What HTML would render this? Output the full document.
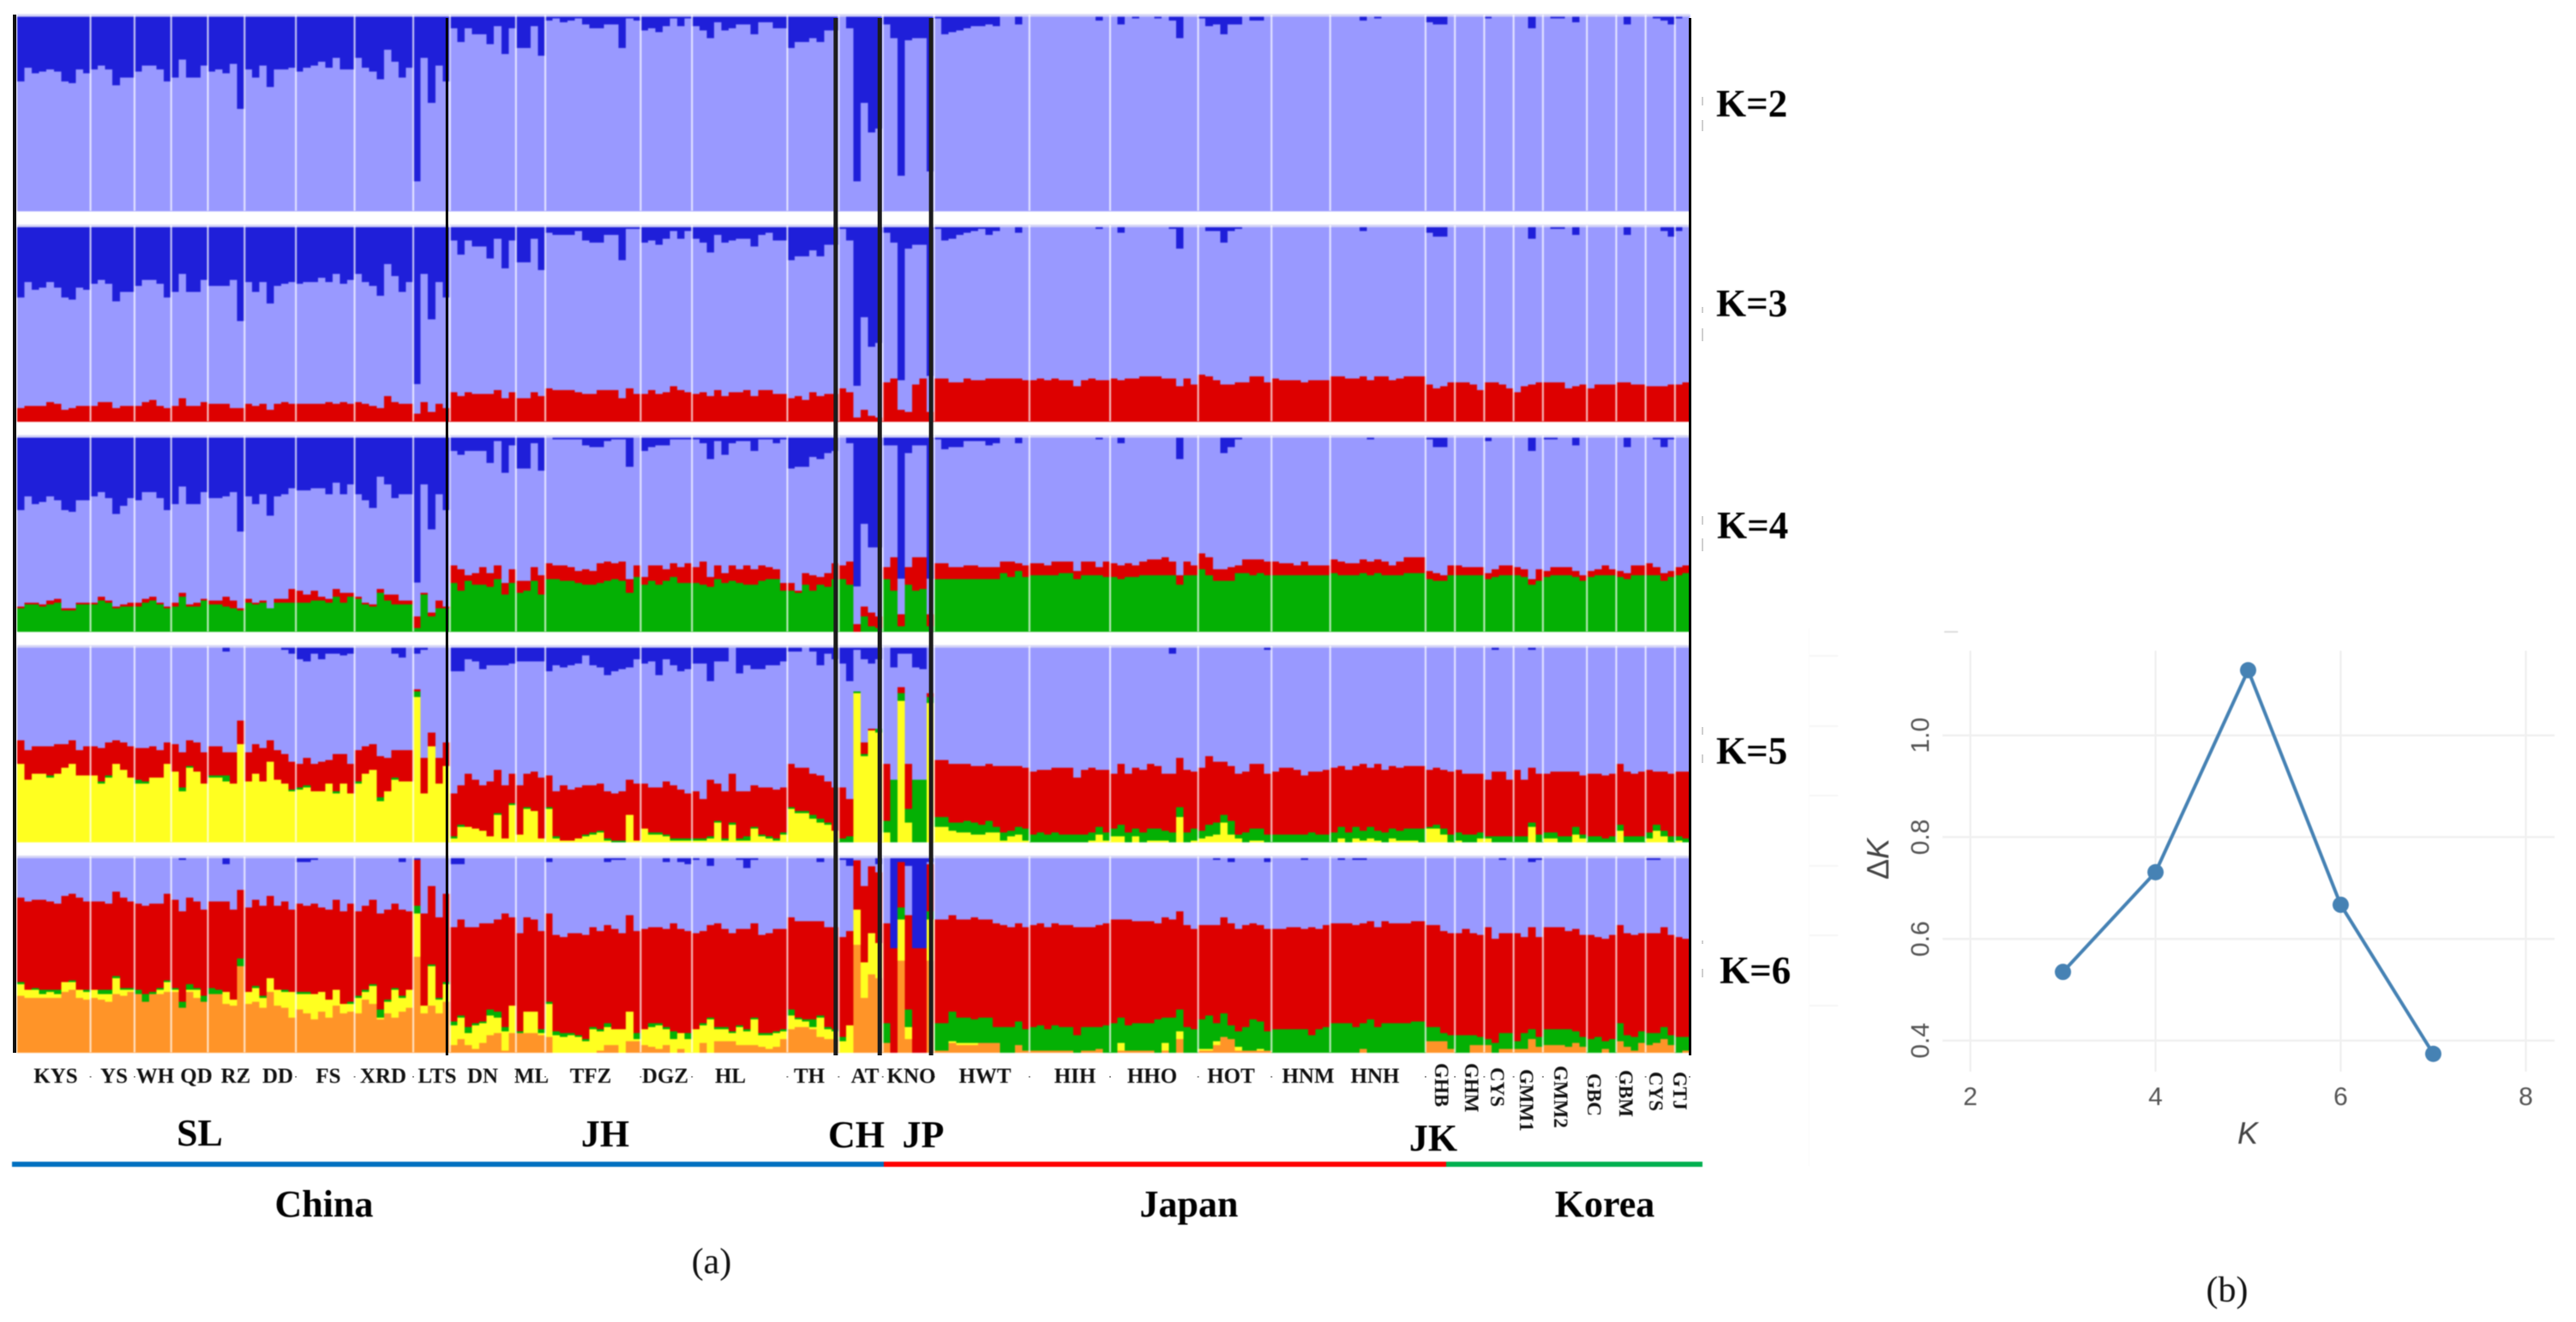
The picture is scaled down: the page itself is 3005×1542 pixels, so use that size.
<!DOCTYPE html>
<html lang="en">
<head>
<meta charset="utf-8">
<title>Population structure bar plots and Delta K chart</title>
<style>
html,body{margin:0;padding:0;background:#fff;width:3005px;height:1542px;overflow:hidden}
svg{display:block}
.bars{filter:blur(0.7px)}
.soft{filter:blur(0.6px)}
.pop{font:bold 25px "Liberation Serif",serif;fill:#111;text-anchor:middle}
.popv{font:bold 23px "Liberation Serif",serif;fill:#111}
.kl{font:bold 45px "Liberation Serif",serif;fill:#000}
.grp{font:bold 44px "Liberation Serif",serif;fill:#000;text-anchor:middle}
.cap{font:42px "Liberation Serif",serif;fill:#111;text-anchor:middle}
.tick{font:30px "Liberation Sans",sans-serif;fill:#555}
.axt{font:italic 36px "Liberation Sans",sans-serif;fill:#444}
</style>
</head>
<body>
<svg id="fig" xmlns="http://www.w3.org/2000/svg" width="3005" height="1542" viewBox="0 0 3005 1542">
<g id="bars" class="bars"></g>
<g id="seps" class="bars"></g>
<g id="blacks"></g>
<g id="popticks"></g>

<g class="soft">
<text class="kl" x="2002" y="136">K=2</text>
<text class="kl" x="2002" y="369">K=3</text>
<text class="kl" x="2003" y="628">K=4</text>
<text class="kl" x="2002" y="891">K=5</text>
<text class="kl" x="2006" y="1147">K=6</text>
</g>
<g fill="#cfcfcf">
<rect x="1985" y="113" width="2" height="10"/>
<rect x="1985" y="140" width="2" height="13"/>
<rect x="1985" y="358" width="2" height="7"/>
<rect x="1985" y="383" width="2" height="15"/>
<rect x="1985" y="602" width="2" height="10"/>
<rect x="1985" y="628" width="2" height="15"/>
<rect x="1985" y="848" width="2" height="9"/>
<rect x="1985" y="880" width="2" height="10"/>
<rect x="1985" y="1097" width="2" height="4"/>
<rect x="1985" y="1130" width="2" height="10"/>
</g>

<g class="soft">
<text class="pop" x="65" y="1263">KYS</text>
<text class="pop" x="133" y="1263">YS</text>
<text class="pop" x="181" y="1263">WH</text>
<text class="pop" x="229" y="1263">QD</text>
<text class="pop" x="275" y="1263">RZ</text>
<text class="pop" x="324" y="1263">DD</text>
<text class="pop" x="383" y="1263">FS</text>
<text class="pop" x="447" y="1263">XRD</text>
<text class="pop" x="510" y="1263">LTS</text>
<text class="pop" x="563" y="1263">DN</text>
<text class="pop" x="620" y="1263">ML</text>
<text class="pop" x="689" y="1263">TFZ</text>
<text class="pop" x="776" y="1263">DGZ</text>
<text class="pop" x="852" y="1263">HL</text>
<text class="pop" x="944" y="1263">TH</text>
<text class="pop" x="1009" y="1263">AT</text>
<text class="pop" x="1063" y="1263">KNO</text>
<text class="pop" x="1149" y="1263">HWT</text>
<text class="pop" x="1254" y="1263">HIH</text>
<text class="pop" x="1344" y="1263">HHO</text>
<text class="pop" x="1436" y="1263">HOT</text>
<text class="pop" x="1526" y="1263">HNM</text>
<text class="pop" x="1604" y="1263">HNH</text>
<text class="popv" transform="translate(1674,1240) rotate(90)">GHB</text>
<text class="popv" transform="translate(1709,1240) rotate(90)">GHM</text>
<text class="popv" transform="translate(1739,1245) rotate(90)">CYS</text>
<text class="popv" transform="translate(1773,1247) rotate(90)">GMM1</text>
<text class="popv" transform="translate(1813,1243) rotate(90)">GMM2</text>
<text class="popv" transform="translate(1852,1252) rotate(90)">GBC</text>
<text class="popv" transform="translate(1889,1248) rotate(90)">GBM</text>
<text class="popv" transform="translate(1924,1250) rotate(90)">CYS</text>
<text class="popv" transform="translate(1952,1250) rotate(90)">GTJ</text>
</g>

<g class="soft">
<text class="grp" x="233" y="1336">SL</text>
<text class="grp" x="706" y="1337">JH</text>
<text class="grp" x="999" y="1338">CH</text>
<text class="grp" x="1077" y="1338">JP</text>
<text class="grp" x="1672" y="1342">JK</text>
<rect x="14" y="1355" width="1017" height="6" fill="#0070c0"/>
<rect x="1031" y="1355" width="656" height="6" fill="#ff0000"/>
<rect x="1687" y="1355" width="299" height="6" fill="#00b050"/>
<text class="grp" x="378" y="1419">China</text>
<text class="grp" x="1387" y="1419">Japan</text>
<text class="grp" x="1872" y="1419">Korea</text>
<text class="cap" x="830" y="1485">(a)</text>
</g>

<g id="deltak" class="soft"></g>
<text class="cap soft" x="2598" y="1518">(b)</text>
</svg>

<script>
// Cluster memberships (percent of each column), one array per cluster per K.
const popSizes = [10,6,5,5,5,7,8,8,5,9,4,13,7,13,7,6,7,13,11,12,10,8,13,4,4,4,4,6,4,4,4,2];
const k2Blue = [
34,27,30,29,28,29,34,35,28,30, 28,26,28,36,32,32, 29,26,26,28,34, 32,23,32,32,26, 29,28,30,25,48,
28,32,26,37,28,28,27, 29,27,26,24,27,22,28,28, 22,27,29,33,18,24,32,27, 85,22,45,26,34,
7,14,7,10,10,15,6,20,7, 17,17,6,21, 3,2,4,3,2,5,7,7,5,5,17,2,3, 8,7,9,6,2,6,2,
6,8,12,4,8,7,5,5,10,4,4,7,7, 17,14,14,12,14,8,8, 1,7,85,45,60,58, 5,12,82,13,12,12,80,
2,10,9,8,7,6,6,5,6,1,1,5,1, 0,0,0,0,0,0,0,0,0,3,0, 0,5,0,2,0,0,2,0,3,12,0,0,
2,6,5,10,5,5,0,3,3,0, 0,0,0,0,0,0,0,1, 0,0,0,0,3,0,2,0,1,1,0,1,0, 4,5,5,0, 0,0,0,0, 2,0,0,0,
0,0,7,0, 0,2,2,0,4,0, 0,0,0,0, 0,5,0,0, 0,2,3,5, 2,0];
const k3Blue = [
37,29,33,32,29,32,37,38,32,33, 30,28,30,39,34,34, 31,28,28,30,37, 34,25,34,34,28, 31,31,31,28,49,
29,34,29,40,31,30,29, 30,29,29,27,29,25,30,28, 25,29,31,36,20,26,34,29, 81,25,48,29,37,
8,15,8,11,11,17,7,22,8, 19,19,7,23, 4,5,5,5,3,8,9,9,5,5,18,2,2, 9,8,10,7,3,7,3,
7,9,14,5,9,8,7,7,11,5,4,8,8, 18,16,16,13,16,10,10, 2,8,82,47,62,60, 4,9,79,12,10,10,77,
2,8,7,5,4,3,2,5,3,0,0,4,0, 0,0,0,0,0,0,0,0,0,2,0, 0,4,0,1,0,0,1,0,2,12,0,0,
1,3,3,9,3,2,0,1,1,0, 0,0,0,0,0,0,0,1, 0,0,0,0,3,0,1,1,1,0,0,0,0, 4,6,6,0, 0,0,0,0, 1,0,0,0,
1,0,7,0, 0,2,2,0,5,0, 0,0,0,0, 0,5,0,0, 0,1,3,6, 3,0];
const k3Red = [
7,8,8,8,10,9,6,7,8,8, 8,10,10,7,8,8, 8,10,11,8,7, 8,12,8,8,10, 9,9,9,7,7,
9,8,9,6,9,10,9, 9,9,9,9,10,9,10,9, 10,9,8,7,13,10,9,9, 4,10,5,9,7,
15,13,15,14,14,14,16,12,15, 12,12,15,13, 17,16,16,16,15,14,14,16,16,16,12,17,14, 14,16,14,15,18,16,15,
14,15,13,16,13,15,15,16,13,16,16,14,14, 12,13,11,15,13,14,14, 17,15,2,6,3,2, 20,22,6,5,19,22,5,
22,22,20,20,22,21,21,22,22,22,22,22,21, 21,22,21,22,21,21,18,21,22,21,21, 22,21,22,22,23,23,23,22,22,18,22,19,
24,23,21,19,19,20,20,23,23,20, 22,21,21,21,20,21,21,21, 23,23,22,22,23,21,23,23,21,22,23,23,23, 19,17,18,20, 20,20,19,16, 20,20,19,17,
15,18,19,20, 20,20,20,17,18,19, 17,19,19,19, 20,20,19,19, 18,18,18,19, 19,20];
const k4Blue = [
38,31,35,34,31,33,38,39,33,33, 31,29,32,40,36,32, 33,29,29,32,38, 35,26,35,35,29, 32,32,31,29,49,
31,35,30,41,31,30,27, 28,28,27,27,30,24,30,25, 30,33,37,21,25,32,30,30, 75,25,48,30,38,
8,10,8,8,8,14,3,19,5, 17,17,4,18, 1,2,2,2,2,5,6,6,3,2,2,16,1, 8,6,5,5,2,2,2,
2,4,12,3,10,4,3,3,8,2,2,4,2, 17,16,16,11,12,9,8, 1,4,77,45,57,57, 5,5,73,9,5,5,73,
2,7,6,6,3,3,3,5,4,0,0,4,0, 0,0,0,0,0,0,0,0,0,2,0, 0,4,0,1,0,0,0,1,0,12,1,1,
1,1,1,9,6,2,0,1,1,0, 0,0,0,0,0,0,0,0, 0,0,0,0,0,2,0,1,1,1,0,0,0, 2,6,6,1, 0,1,0,0, 3,0,0,1,
0,0,8,0, 2,2,0,0,5,1, 0,0,0,0, 0,6,0,0, 0,2,6,2, 0,0];
const k4Red = [
1,1,1,1,2,2,1,1,1,1, 1,2,1,1,1,2, 2,2,2,1,1, 2,2,1,2,1, 2,2,5,4,1,
2,1,1,0,2,2,7, 6,4,5,2,2,4,5,2, 1,1,1,2,3,5,2,2, 6,1,2,4,1,
9,11,3,6,9,7,7,6,7, 6,5,7,10, 8,7,8,7,6,8,7,10,10,8,10,7,6, 4,8,10,6,7,8,10,
8,12,5,7,5,8,7,10,8,8,6,5,4, 4,1,6,8,4,7,8, 7,12,4,5,7,6, 6,17,6,9,17,16,6,
8,8,6,6,7,7,6,6,6,6,8,4,6, 6,6,5,7,6,6,4,7,7,4,8, 7,7,7,6,7,8,8,9,7,5,7,5,
8,9,6,6,7,4,7,8,7,7, 7,6,6,5,7,5,5,5, 7,7,6,6,7,7,7,7,5,7,8,8,8, 4,4,3,5, 5,4,4,4, 3,4,5,5,
4,4,3,6, 3,4,4,4,3,3, 3,3,5,3, 3,3,5,5, 6,4,4,3, 4,4];
const k4Green = [
12,14,14,13,14,15,11,11,14,14, 14,16,15,12,13,13, 13,15,16,14,12, 13,18,13,13,16, 14,14,13,12,11,
15,14,15,12,15,15,15, 15,15,16,16,15,18,15,18, 17,14,13,20,16,14,14,14, 2,19,8,12,12,
25,21,26,24,24,23,27,19,25, 20,21,26,19, 27,27,26,26,25,24,24,25,26,27,26,20,28, 24,26,24,26,28,25,25,
25,24,23,27,25,26,25,24,24,26,27,27,21, 21,20,24,21,24,23,27, 27,24,0,8,3,2, 27,21,3,24,21,22,3,
27,27,27,27,27,27,27,27,27,30,28,31,28, 29,29,29,29,30,30,27,29,29,29,28, 28,27,28,28,29,29,29,29,29,24,29,29,
32,29,26,26,26,30,30,29,30,29, 29,29,29,29,29,29,29,29, 30,29,29,29,30,29,30,29,29,29,30,30,30, 27,26,26,29, 29,29,29,29, 27,28,29,29,
29,28,24,26, 28,29,29,29,28,26, 28,29,29,29, 28,27,29,29, 29,29,26,28, 29,30];
const k5Blue = [
0,0,0,0,0,0,0,0,0,0, 1,0,0,0,0,0, 0,0,0,0,0, 0,0,0,0,0, 0,0,3,0,0,
0,1,0,0,0,2,4, 7,8,4,7,4,4,5,4, 1,0,1,1,1,4,6,0, 4,2,1,0,0,
13,13,7,8,12,10,10,10,9, 8,8,8,8, 13,10,11,10,9,5,10,11,15,13,12,11,7, 9,8,15,7,10,13,12,
9,9,18,8,8,1,14,10,12,12,10,10,8, 3,3,0,3,10,4,7, 9,18,2,7,9,7, 0,11,4,4,11,12,0,
0,0,0,0,0,0,0,0,0,0,0,0,0, 0,0,0,0,0,0,0,0,0,0,0, 0,0,0,0,0,0,0,0,4,0,0,0,
0,1,1,0,0,0,0,0,1,2, 0,0,0,0,0,0,0,0, 0,0,0,0,0,0,0,0,0,0,0,0,0, 0,0,0,0, 1,0,0,0, 0,2,0,0,
1,1,2,0, 0,0,0,0,0,0, 0,1,0,0, 0,0,0,0, 1,1,0,0, 1,0];
const k5Red = [
12,15,14,14,15,15,12,12,13,15, 15,17,17,12,14,16, 16,17,16,14,11, 14,18,13,15,16, 15,15,12,16,12,
15,15,17,11,15,15,14, 12,14,14,15,12,19,15,15, 16,14,13,21,17,14,16,16, 1,18,7,13,12,
22,20,27,25,23,28,22,27,15, 25,17,20,31, 16,23,28,26,26,25,24,24,24,24,25,18,29, 23,23,23,27,27,25,23,
24,20,29,19,24,25,24,23,21,24,25,25,23, 22,22,22,21,22,21,22, 26,19,0,6,1,0, 29,0,3,23,0,0,2,
29,29,30,30,29,29,30,29,31,34,33,31,31, 32,32,33,33,34,34,29,33,33,29,32, 28,31,30,31,32,33,32,29,30,25,32,29,
32,35,31,27,28,31,31,33,33,31, 32,34,34,33,30,31,32,33, 33,31,32,31,34,30,34,32,32,32,32,32,32, 29,29,30,32, 32,31,31,30, 29,33,33,29,
34,29,28,31, 30,31,33,33,28,30, 32,32,32,32, 31,33,32,33, 32,27,30,32, 33,34];
const k5Green = [
0,0,0,0,1,0,0,0,0,0, 0,1,1,0,0,0, 2,1,0,0,0, 0,2,1,0,0, 1,1,3,0,0,
0,0,0,0,0,0,1, 1,1,0,0,0,1,0,0, 1,0,0,2,0,1,0,0, 3,0,0,0,0,
1,1,0,0,0,0,1,0,1, 0,1,0,0, 1,1,0,0,0,1,1,1,1,1,1,0,0, 0,1,1,1,1,1,1,
1,1,1,1,1,1,1,2,1,1,1,1,1, 1,1,1,2,2,1,0, 2,3,1,1,0,2, 6,32,4,7,32,32,3,
5,5,4,5,6,6,5,6,3,4,3,4,6, 4,5,4,5,4,4,4,4,4,4,4, 4,6,5,4,5,6,6,5,5,5,5,6,
4,6,6,4,7,2,5,6,6,4, 4,4,4,4,4,5,4,4, 5,6,5,6,5,6,5,5,5,5,6,6,7, 1,2,3,4, 4,4,4,3, 1,3,3,3,
3,3,2,4, 3,3,3,3,4,2, 3,3,2,3, 3,3,3,3, 3,3,3,3, 2,2];
const k5Yellow = [
40,32,35,35,33,35,38,40,34,34, 34,30,33,40,37,33, 30,30,33,33,40, 36,26,38,36,30, 33,33,31,30,50,
31,35,31,41,32,30,26, 27,28,26,26,30,25,30,25, 30,35,37,21,26,32,31,31, 74,25,49,30,39,
2,8,8,7,6,3,14,2,19, 4,17,16,2, 17,2,1,1,2,3,4,5,1,0,0,14,1, 7,4,4,3,1,1,1,
1,1,2,10,1,9,1,1,7,3,2,1,4, 17,15,15,12,10,9,6, 0,0,76,44,57,56, 5,0,72,10,0,0,71,
8,8,6,5,5,4,4,5,5,1,3,4,1, 0,0,0,0,0,0,0,0,1,4,1, 3,3,0,3,0,1,1,1,0,13,0,1,
2,3,4,10,4,2,0,1,1,0, 0,0,0,0,0,0,0,0, 0,2,0,2,1,2,1,0,2,1,1,1,0, 7,7,4,0, 1,0,0,2, 2,0,0,0,
0,0,8,0, 2,2,0,0,4,2, 0,0,0,0, 6,0,0,0, 2,6,3,0, 1,0];
const k6Blue = [
0,0,0,0,0,0,0,0,0,0, 0,0,0,0,0,0, 0,0,0,0,0, 0,2,0,0,0, 0,0,4,0,0,
0,0,0,0,0,0,0, 3,3,2,0,0,0,0,0, 0,0,0,0,0,0,3,1, 2,0,0,0,0,
4,4,0,0,1,0,0,0,1, 1,1,0,0, 3,0,0,0,0,0,0,0,3,2,2,0,0, 0,0,0,3,0,3,4,
2,0,5,0,0,0,2,6,2,0,1,0,1, 0,0,0,0,3,0,0, 2,5,0,0,0,4, 1,47,3,5,47,47,3,
0,0,0,0,0,1,0,1,0,0,0,0,1, 0,1,0,0,0,0,0,0,0,0,1, 0,0,0,0,0,0,0,0,0,0,0,0,
0,0,2,0,3,0,0,0,0,3, 0,0,0,0,2,0,0,0, 0,2,0,2,2,0,0,0,0,0,0,0,0, 0,0,0,0, 0,0,1,0, 0,0,2,0,
0,0,3,2, 0,0,0,0,0,0, 0,0,0,0, 0,0,0,0, 2,2,0,0, 0,0];
const k6Red = [
43,45,45,46,45,44,44,44,47,45, 45,45,44,43,46,44, 44,45,45,43,44, 45,46,44,44,44, 44,45,46,46,35,
43,44,46,42,43,45,42, 45,44,46,43,46,46,47,50, 43,43,43,49,46,43,44,40, 23,47,40,41,45,
48,49,51,49,50,44,47,58,45, 50,48,47,50, 45,49,49,51,52,53,51,50,50,51,49,49,52, 51,49,49,50,55,53,52,
49,47,47,53,50,50,49,51,48,50,51,52,51, 47,49,50,50,48,51,52, 51,48,25,39,34,36, 51,53,23,48,53,53,24,
53,53,49,50,50,52,50,50,53,52,51,50,52, 52,52,52,52,52,52,55,51,51,52,52, 53,50,54,52,52,52,49,51,50,50,52,51,
48,46,50,49,52,52,52,49,49,52, 51,51,52,52,51,55,51,52, 51,51,51,52,51,50,51,52,51,51,51,51,51, 52,52,52,52, 52,54,52,52, 57,53,51,51,
55,49,52,51, 52,52,52,50,52,52, 53,51,52,53, 50,52,52,50, 51,51,51,51, 51,50];
const k6Green = [
1,0,1,2,1,2,0,1,0,1, 0,2,2,1,1,1, 2,4,1,1,1, 1,3,3,1,3, 3,2,0,0,4,
0,1,1,0,0,1,0, 1,1,0,0,0,0,0,1, 1,1,1,4,1,1,1,0, 4,0,1,1,1,
2,1,3,1,1,3,3,2,0, 1,0,0,2, 1,2,2,1,1,1,1,1,2,0,0,0,3, 0,2,1,1,4,0,3,
0,1,1,1,1,1,1,1,1,1,1,1,1, 3,1,1,4,1,1,1, 2,0,0,0,0,0, 10,0,6,9,0,0,4,
14,14,15,13,13,12,13,13,8,13,13,12,11, 12,13,11,13,12,12,9,12,12,11,14, 15,13,13,14,14,14,17,13,18,11,13,12,
15,17,9,12,7,8,12,16,14,10, 12,12,12,12,12,9,12,13, 15,15,15,13,13,17,13,15,15,15,15,16,16, 7,7,4,7, 9,9,5,4, 3,5,8,8,
4,8,5,5, 8,8,8,9,6,5, 7,8,4,7, 9,6,7,6, 6,5,6,5, 8,7];
const k6Yellow = [
6,4,4,2,3,2,5,4,4,4, 4,3,4,8,3,1, 0,0,0,2,5, 1,0,1,4,0, 0,0,6,3,0,
6,7,5,7,8,8,13, 8,10,13,10,9,8,5,4, 8,4,9,1,6,14,7,9, 22,4,20,7,9,
10,11,6,12,10,10,8,10,14, 0,11,11,1, 17,9,8,9,8,6,12,10,9,8,12,15,1, 8,10,12,8,7,8,7,
12,9,17,6,6,4,9,7,13,6,7,7,4, 7,4,3,1,10,5,4, 6,14,18,18,21,18, 0,0,21,6,0,0,21,
0,0,1,1,1,1,0,0,0,0,0,0,0, 0,0,0,0,0,0,0,0,0,0,0, 0,4,0,0,0,0,0,4,0,4,0,0,
1,1,2,0,0,2,0,0,1,0, 0,0,0,0,0,0,0,0, 0,0,0,0,0,0,0,0,0,0,0,0,0, 0,0,0,0, 0,0,0,0, 0,0,0,0,
0,0,0,0, 0,0,0,0,0,0, 0,0,0,0, 0,0,0,0, 0,0,0,0, 0,0];
const k6Orange = [
29,28,28,28,28,28,31,32,28,27, 28,27,26,30,29,31, 30,26,30,30,31, 31,23,31,28,26, 30,30,25,24,44,
25,26,23,31,24,23,18, 22,20,17,21,18,24,20,21, 20,27,25,17,20,18,21,23, 49,20,24,20,26,
4,7,4,2,5,9,10,1,10, 10,10,10,9, 8,0,0,0,0,0,0,1,4,4,0,6,6, 4,3,2,4,0,2,0,
0,5,0,6,6,6,4,4,4,3,2,3,7, 12,13,13,12,8,7,7, 0,0,55,28,40,38, 5,0,47,7,0,0,47,
1,1,5,4,4,4,5,5,5,0,0,4,1, 1,1,1,1,1,1,0,1,1,2,0, 0,1,1,1,1,1,0,1,0,7,0,0,
1,1,4,8,7,1,1,1,1,1, 0,0,0,0,0,0,0,0, 0,0,0,0,2,0,0,0,0,0,0,0,0, 6,6,6,2, 0,0,4,4, 4,0,2,2,
2,2,7,3, 4,4,4,3,5,3, 0,0,2,0, 6,3,1,5, 4,5,7,4, 0,1];

// Delta K line chart values
const kValues = [3,4,5,6,7];
const deltaK = [0.535,0.731,1.128,0.667,0.374];
const xTickValues = [2,4,6,8];
const yTickValues = [0.4,0.6,0.8,1.0];

const SVGNS = 'http://www.w3.org/2000/svg';
function mk(tag, attrs, parent){
  const el = document.createElementNS(SVGNS, tag);
  for (const k in attrs) el.setAttribute(k, attrs[k]);
  parent.appendChild(el);
  return el;
}
const COLORS = {orange:'#ff9428', yellow:'#ffff20', green:'#04b004', red:'#dd0000', purple:'#9999ff', blue:'#1f1fd9'};
const X0 = 20, X1 = 1971, NCOL = 228, PANEL_H = 229;
const colX = i => X0 + (X1 - X0) * i / NCOL;
const panelTop = p => 17 + p * 245.4;
const pctH = v => v / 100 * PANEL_H;

const panels = [
  {name:'k2', blue:k2Blue, stack:[]},
  {name:'k3', blue:k3Blue, stack:[['red',k3Red]]},
  {name:'k4', blue:k4Blue, stack:[['green',k4Green],['red',k4Red]]},
  {name:'k5', blue:k5Blue, stack:[['yellow',k5Yellow],['green',k5Green],['red',k5Red]]},
  {name:'k6', blue:k6Blue, stack:[['orange',k6Orange],['yellow',k6Yellow],['green',k6Green],['red',k6Red]]}
];

const barsG = document.getElementById('bars');
panels.forEach(function(panel, p){
  const top = panelTop(p), bottom = top + PANEL_H;
  const g = mk('g', {'shape-rendering':'crispEdges'}, barsG);
  
  
  for (let i = 0; i < NCOL; i++){
    const x = colX(i), w = colX(i + 1) - x + 0.4;
    let y = bottom, used = 0;
    panel.stack.forEach(function(s){
      const v = s[1][i] || 0;
      if (v <= 0) return;
      const h = pctH(v);
      y -= h; used += v;
      const r = mk('rect', {x:x, y:y, width:w, height:h + 0.4, fill:COLORS[s[0]]}, g);
      
      
    });
    const b = panel.blue[i] || 0;
    const pv = Math.max(0, 100 - used - b);
    if (pv > 0){
      const h = pctH(pv);
      y -= h;
      const r = mk('rect', {x:x, y:y, width:w, height:h + 0.4, fill:COLORS.purple}, g);
      
      
    }
    if (b > 0){
      const h = pctH(b);
      const r = mk('rect', {x:x, y:top, width:w, height:h, fill:COLORS.blue}, g);
      
      
    }
  }
  const band = mk('rect', {x:X0, y:top - 0.5, width:X1 - X0, height:3, fill:'#d4d4f6'}, g);
  
  
});

// Population separators from population sizes
const sepG = document.getElementById('seps');
let cum = 0;
const cums = [];
popSizes.forEach(function(n){ cum += n; cums.push(cum); });
panels.forEach(function(panel, p){
  cums.slice(0, -1).forEach(function(c){
    const ln = mk('rect', {x:colX(c) - 1, y:panelTop(p), width:2, height:PANEL_H, fill:'#ffffff', 'fill-opacity':0.78}, sepG);
    
    
  });
});

// Small tick dots under the plot at population boundaries
const tickG = document.getElementById('popticks');
cums.forEach(function(c){
  const d = mk('rect', {x:colX(c) - 1, y:1255, width:2, height:2, fill:'#999999'}, tickG);
  
  
});

// Thick dividers between gene-pool groups
const blacks = document.getElementById('blacks');
const dividerPops = [8, 14, 15, 16];
const dividerWidths = [3, 5, 5, 5];
const lf = mk('rect', {x:15, y:17, width:4, height:1211, fill:'#111'}, blacks);


dividerPops.forEach(function(pi, j){
  const x = colX(cums[pi]) - 3.5 - dividerWidths[j] / 2;
  const r = mk('rect', {x:x, y:21, width:dividerWidths[j], height:1210, fill: j === 0 ? '#000' : '#1c1c1c'}, blacks);
  
  
});
const rf = mk('rect', {x:X1 - 1, y:21, width:3, height:1210, fill:'#000'}, blacks);



// Delta K chart
const dk = document.getElementById('deltak');
const sx = k => 2298.5 + (k - 2) * 108;
const sy = v => 1213.8 - (v - 0.4) * 593.5;

[765,847,928,1010,1091,1173].forEach(function(y){
  const r = mk('rect', {x:2111, y:y - 1, width:33, height:2, fill:'#f6f6f6'}, dk);
  
  
});
const fv = mk('rect', {x:2110, y:733, width:1, height:627, fill:'#fafafa'}, dk);


const ft = mk('rect', {x:2268, y:736, width:16, height:2, fill:'#dddddd'}, dk);



xTickValues.forEach(function(t){
  const ln = mk('line', {x1:sx(t), x2:sx(t), y1:759, y2:1250, stroke:'#eeeeee', 'stroke-width':2}, dk);
  
  
  const tx = mk('text', {x:sx(t), y:1289, 'text-anchor':'middle', class:'tick'}, dk);
  
  
  tx.textContent = String(t);
});
yTickValues.forEach(function(t){
  const ln = mk('line', {x1:2266, x2:2980, y1:sy(t), y2:sy(t), stroke:'#f0f0f0', 'stroke-width':2.5}, dk);
  
  
  const tx = mk('text', {transform:'translate(2250,' + sy(t) + ') rotate(-90)', 'text-anchor':'middle', class:'tick'}, dk);
  
  
  tx.textContent = t.toFixed(1);
});
const pts = kValues.map(function(k, i){ return sx(k) + ',' + sy(deltaK[i]); }).join(' ');
const pl = mk('polyline', {points:pts, fill:'none', stroke:'#4682b4', 'stroke-width':4}, dk);


kValues.forEach(function(k, i){
  const c = mk('circle', {cx:sx(k), cy:sy(deltaK[i]), r:9.5, fill:'#4682b4'}, dk);
  
  
});
const xt = mk('text', {x:2622, y:1334, 'text-anchor':'middle', class:'axt'}, dk);


xt.textContent = 'K';
const yt = mk('text', {transform:'translate(2203,1002) rotate(-90)', 'text-anchor':'middle', class:'axt'}, dk);


yt.innerHTML = '<tspan font-style="normal">\u0394</tspan>K';
</script>
</body>
</html>
